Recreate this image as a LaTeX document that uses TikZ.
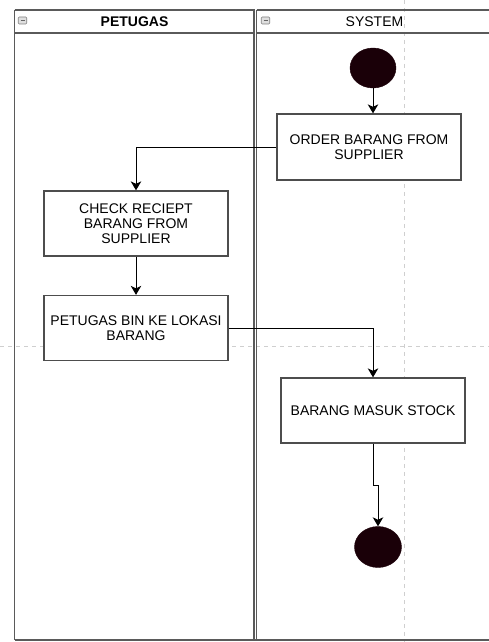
\documentclass[tikz,border=0pt]{standalone}
\usepackage{fontspec}
\setmainfont{Liberation Sans}
\usetikzlibrary{arrows.meta}
\definecolor{lanecol}{HTML}{5A5A5A}
\definecolor{boxcol}{HTML}{4D4D4D}
\definecolor{dashcol}{HTML}{CFCFCF}
\definecolor{dotcol}{HTML}{1A0008}
\tikzset{
  lane/.style={draw=lanecol, line width=1.5pt},
  pagebreak/.style={draw=dashcol, line width=1pt, dash pattern=on 4pt off 4pt},
  actbox/.style={draw=boxcol, line width=1.3pt, fill=white, rectangle, minimum width=184pt, minimum height=66pt, inner sep=2pt, align=center, font=\fontsize{14}{15}\selectfont, text=black},
  dot/.style={ellipse, fill=dotcol, draw=dotcol, minimum width=46pt, minimum height=40pt, inner sep=0pt},
  flow/.style={draw=black, line width=1pt, -{Stealth[length=9pt,width=10.5pt,inset=2.5pt]}},
  hdr/.style={font=\fontsize{14}{15}\selectfont, text=black},
  icon/.style={draw=gray, fill=gray!25, rounded corners=1pt, minimum width=8.5pt, minimum height=7pt, inner sep=0pt, line width=0.6pt}
}
\usetikzlibrary{shapes.geometric}
\begin{document}
\begin{tikzpicture}[x=1pt,y=-1pt]
\useasboundingbox (0,0) rectangle (489,642);
% page break guides
\draw[pagebreak] (404,0) -- (404,642);
\draw[pagebreak] (0,346) -- (489,346);
% pool and lanes
\draw[lane] (14.5,10) -- (14.5,640);
\draw[lane] (14.5,10) -- (254,10) -- (254,640);
\draw[lane] (256.5,10) -- (256.5,640);
\draw[lane] (256.5,10) -- (492,10);
\draw[lane] (14.5,33) -- (254,33);
\draw[lane] (256.5,33) -- (492,33);
\draw[lane] (14.5,640) -- (492,640);
% header icons
\node[icon] (ic1) at (22.5,20.5) {};
\draw[gray!80!black, line width=0.8pt] ([xshift=-2pt]ic1.center) -- ([xshift=2pt]ic1.center);
\node[icon] (ic2) at (265.5,20.5) {};
\draw[gray!80!black, line width=0.8pt] ([xshift=-2pt]ic2.center) -- ([xshift=2pt]ic2.center);
% header labels
\node[hdr, font=\fontsize{14}{15}\selectfont\bfseries] (h1) at (134.5,21.5) {PETUGAS};
\node[hdr] (h2) at (374.5,21.5) {SYSTEM};
% nodes
\node[dot] (start) at (373,68) {};
\node[actbox] (order) at (369,147) {ORDER BARANG FROM\\SUPPLIER};
\node[actbox, minimum height=65pt] (check) at (136,223.5) {CHECK RECIEPT\\BARANG FROM\\SUPPLIER};
\node[actbox, minimum height=65pt] (petugas) at (136,328) {PETUGAS BIN KE LOKASI\\BARANG};
\node[actbox, minimum height=65pt] (barang) at (373,410.5) {BARANG MASUK STOCK};
\node[dot, minimum width=47pt, minimum height=41pt] (finish) at (378,547) {};
\coordinate (j1) at (373,485);
\coordinate (j2) at (378,485);
% connectors
\draw[flow] (start.south) -- (order.north -| start.south);
\draw[flow] (order.west) -| (check.north);
\draw[flow] (check.south) -- (petugas.north);
\draw[flow] (petugas.east) -| (barang.north);
\draw[flow] (barang.south) -- (j1) -- (j2) -- (finish.north);
\end{tikzpicture}
\end{document}
